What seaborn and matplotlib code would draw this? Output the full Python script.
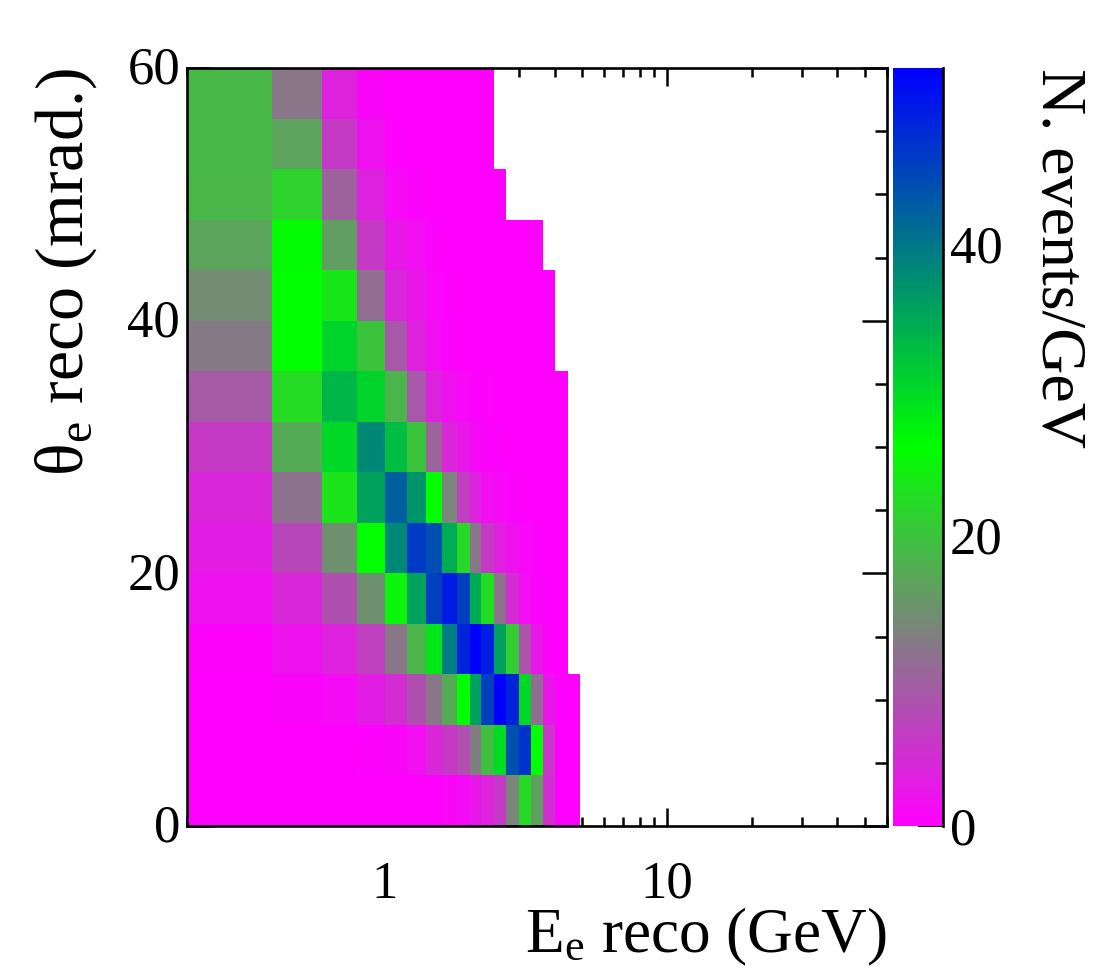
import numpy as np
import pandas as pd
import matplotlib
matplotlib.use("Agg")
import matplotlib.pyplot as plt
from matplotlib.colors import LinearSegmentedColormap
from matplotlib.ticker import LogLocator, FixedLocator, NullFormatter, FixedFormatter
from matplotlib.transforms import ScaledTranslation
import seaborn as sns

# bin edges
energy_edges = [0.2, 0.4, 0.6, 0.8, 1.0, 1.2, 1.4, 1.6, 1.8, 2.0, 2.2, 2.45, 2.7, 3.0, 3.3, 3.65, 4.0, 4.45, 4.9]
theta_edges = [0, 4, 8, 12, 16, 20, 24, 28, 32, 36, 40, 44, 48, 52, 56, 60]

# N. events/GeV per theta row (bottom to top), one value per energy bin
row_00 = [0.05, 0.05, 0.05, 0.05, 0.1, 0.1, 0.2, 0.7, 1.2, 2.5, 3.7, 6.0, 13.8, 22.0, 16.3, 5.0, 0.1, 0.1]
row_04 = [0.05, 0.1, 0.1, 0.3, 0.7, 1.5, 4.0, 6.0, 8.0, 13.0, 19.4, 29.6, 43.9, 46.9, 26.0, 5.6, 0.1, 0.1]
row_08 = [0.1, 0.5, 1.2, 2.9, 4.5, 8.2, 12.2, 17.3, 26.0, 35.7, 45.4, 52.0, 48.4, 30.0, 11.2, 2.5, 0.3, 0.1]
row_12 = [0.3, 2.0, 3.6, 6.6, 12.2, 18.4, 28.6, 39.3, 48.4, 52.0, 49.0, 35.7, 20.9, 8.7, 2.5, 0.6, 0.1, 0]
row_16 = [2.0, 4.0, 8.2, 14.8, 25.0, 35.5, 45.4, 49.4, 45.4, 34.7, 22.6, 11.8, 4.6, 1.5, 0.6, 0.3, 0.1, 0]
row_20 = [3.0, 7.2, 14.8, 26.0, 38.2, 46.0, 44.0, 34.5, 22.0, 12.2, 6.0, 3.3, 2.0, 1.0, 0.5, 0.2, 0.1, 0]
row_24 = [4.0, 11.8, 23.3, 35.5, 42.3, 37.0, 26.0, 13.8, 6.6, 3.6, 1.5, 1.0, 0.5, 0.3, 0.2, 0.1, 0.05, 0]
row_28 = [6.0, 17.3, 30.0, 38.2, 32.6, 20.0, 10.3, 4.0, 2.5, 1.2, 0.6, 0.3, 0.2, 0.1, 0.1, 0.05, 0.05, 0]
row_32 = [9.2, 22.5, 33.5, 30.4, 18.4, 9.0, 3.6, 2.0, 1.0, 0.5, 0.3, 0.2, 0.1, 0.1, 0.05, 0.05, 0.05, 0]
row_36 = [12.5, 26.0, 30.4, 20.0, 9.0, 3.6, 1.5, 0.5, 0.2, 0.1, 0.1, 0.1, 0.05, 0.05, 0.05, 0.05, 0, 0]
row_40 = [14.3, 26.0, 23.5, 11.3, 4.0, 2.5, 1.0, 0.4, 0.2, 0.1, 0.1, 0.05, 0.05, 0.05, 0.05, 0.05, 0, 0]
row_44 = [16.7, 25.7, 16.2, 6.0, 2.5, 1.5, 0.5, 0.2, 0.1, 0.1, 0.05, 0.05, 0.05, 0.05, 0.05, 0, 0, 0]
row_48 = [18.7, 21.5, 10.0, 3.5, 1.2, 0.5, 0.2, 0.1, 0.1, 0.05, 0.05, 0.05, 0, 0, 0, 0, 0, 0]
row_52 = [18.8, 16.5, 6.0, 2.0, 0.3, 0.1, 0.1, 0.1, 0.05, 0.05, 0.05, 0, 0, 0, 0, 0, 0, 0]
row_56 = [18.8, 12.2, 3.6, 0.8, 0.2, 0.1, 0.1, 0.05, 0.05, 0.05, 0.05, 0, 0, 0, 0, 0, 0, 0]
rows = [row_00, row_04, row_08, row_12, row_16, row_20, row_24, row_28, row_32, row_36,
        row_40, row_44, row_48, row_52, row_56]

sns.set_style("white")
plt.rcParams["font.family"] = ["Liberation Serif", "DejaVu Serif"]
plt.rcParams["mathtext.fontset"] = "custom"
plt.rcParams["mathtext.rm"] = "Liberation Serif"
plt.rcParams["mathtext.default"] = "regular"
plt.rcParams["text.color"] = "black"
plt.rcParams["axes.labelcolor"] = "black"
plt.rcParams["xtick.color"] = "black"
plt.rcParams["ytick.color"] = "black"

# long table for the weighted histogram
e_mid = np.sqrt(np.array(energy_edges[:-1]) * np.array(energy_edges[1:]))
t_mid = (np.array(theta_edges[:-1]) + np.array(theta_edges[1:])) / 2
df = pd.DataFrame(
    [(e, t, v) for t, row in zip(t_mid, rows) for e, v in zip(e_mid, row)],
    columns=["energy", "theta", "n"],
)

cmap = LinearSegmentedColormap.from_list("mgb", ["#ff00ff", "#00ff00", "#0000ff"], N=256)

W, H = 1096, 972
fig = plt.figure(figsize=(W / 100, H / 100), dpi=100)
ax = fig.add_axes([187 / W, 1 - 826 / H, 700 / W, 758 / H])
cax = fig.add_axes([893 / W, 1 - 826 / H, 50 / W, 758 / H])

sns.histplot(
    data=df, x="energy", y="theta", weights="n",
    bins=(np.log10(energy_edges), theta_edges), log_scale=(True, False),
    cmap=cmap, vmin=0, vmax=52.1,
    cbar=True, cbar_ax=cax, ax=ax,
)

ax.set_xlim(0.2, 60)
ax.set_ylim(0, 60)
ax.xaxis.set_major_locator(FixedLocator([1, 10]))
ax.xaxis.set_major_formatter(FixedFormatter(["1", "10"]))
ax.xaxis.set_minor_locator(LogLocator(base=10, subs=np.arange(2, 10), numticks=20))
ax.xaxis.set_minor_formatter(NullFormatter())
ax.set_yticks([0, 20, 40, 60])
ax.set_yticks(np.arange(0, 61, 5), minor=True)
ax.tick_params(axis="x", which="major", direction="in", top=True, bottom=True, length=13, width=1.8,
               labelsize=38, pad=25)
ax.tick_params(axis="x", which="minor", direction="in", top=True, bottom=True, length=6.5, width=1.8)
ax.tick_params(axis="y", which="major", direction="in", left=True, right=True, length=18, width=1.8,
               labelsize=38, pad=5)
ax.tick_params(axis="y", which="minor", direction="in", left=True, right=True, length=9, width=1.8)
for s in ax.spines.values():
    s.set_visible(True)
    s.set_linewidth(1.9)
    s.set_color("black")
# nudge the y numbers up a little
for lab in ax.get_yticklabels():
    lab.set_transform(lab.get_transform() + ScaledTranslation(0, 2 / 72, fig.dpi_scale_trans))

ax.set_xlabel("E$_{e}$ reco (GeV)", fontsize=45.5, ha="right")
ax.xaxis.set_label_coords(1.0, -0.105)
ax.set_ylabel("θ$_{e}$ reco (mrad.)", fontsize=49, ha="right")
ax.yaxis.set_label_coords(-0.125, 1.0)

# colour bar: only the right line stays
cb = ax.collections[0].colorbar
cb.outline.set_visible(False)
cax.spines["right"].set_visible(True)
cax.spines["right"].set_linewidth(1.9)
cax.spines["right"].set_color("black")
cb.set_ticks([0, 20, 40])
cax.tick_params(axis="y", which="major", direction="in", right=True, length=18, width=1.5,
                labelsize=38, pad=5)
cax.minorticks_off()
cax.set_ylabel("N. events/GeV", fontsize=46, rotation=270, ha="left", va="center")
cax.yaxis.set_label_position("right")
cax.yaxis.set_label_coords(3.86, 1.0)

fig.savefig("out.png", dpi=100, facecolor="white")
